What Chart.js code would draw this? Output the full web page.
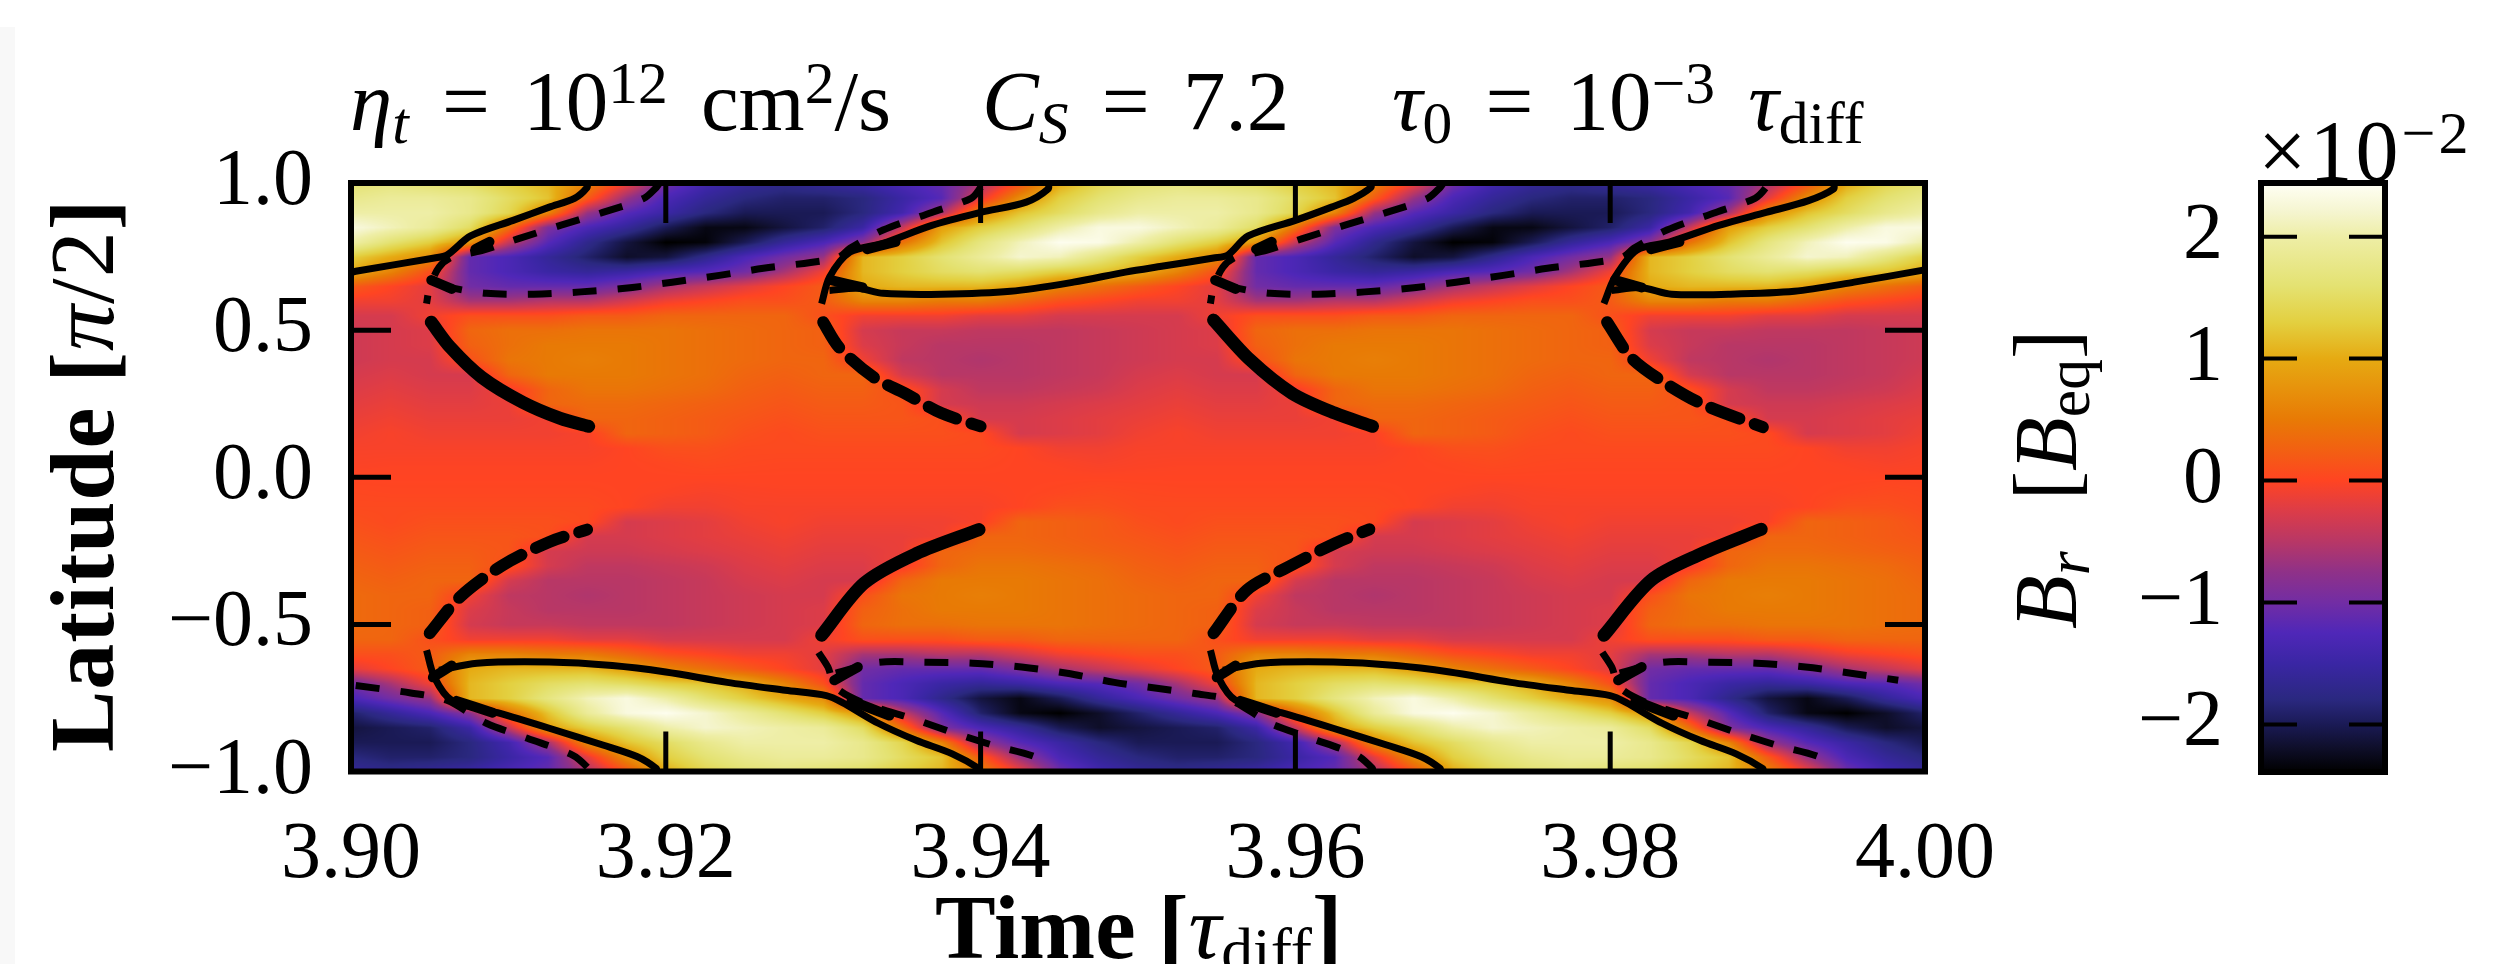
<!DOCTYPE html>
<html>
<head>
<meta charset="utf-8">
<script src="https://cdn.jsdelivr.net/npm/chart.js@4"></script>
<style>
  html, body { margin: 0; padding: 0; background: #fff; width: 2520px; height: 964px; overflow: hidden; }
  canvas { position: absolute; top: 0; }
  #strip { position: absolute; left: 0; top: 27px; width: 15px; height: 937px; background: #f8f8f8; }
  .t { position: absolute; font-family: "Liberation Serif"; font-size: 78px; line-height: 1; white-space: nowrap; color: #000; }
  .h { font-size: 85px; word-spacing: 12px; top: 59px; }
  .r { transform-origin: left top; transform: rotate(-90deg); }
  .b { font-weight: bold; }
  i { font-style: italic; }
  .sp { font-size: .7em; vertical-align: .45em; line-height: 0; }
  .sb { font-size: .7em; vertical-align: -.22em; line-height: 0; }
</style>
</head>
<body>
<div id="strip"></div>
<canvas id="mapChart" style="left:0"></canvas>
<canvas id="barChart" style="left:2100px"></canvas>

<div class="t h" style="left:350px"><i>η</i><span class="sb"><i>t</i></span> = 10<span class="sp">12</span> cm<span class="sp">2</span>/s</div>
<div class="t h" style="left:982px"><i>C</i><span class="sb"><i>S</i></span> = 7.2</div>
<div class="t h" style="left:1392px"><i>τ</i><span class="sb">0</span> = 10<span class="sp">−3</span> <i>τ</i><span class="sb">diff</span></div>
<div class="t r" style="left:36px;top:752px;font-size:92px;letter-spacing:1px"><span class="b">Latitude [</span><i>π</i>/2<span class="b">]</span></div>
<div class="t" style="left:935px;top:882px;font-size:91px"><span class="b">Time [</span><i>τ</i><span class="sb">diff</span><span class="b">]</span></div>
<div class="t r" style="left:2002px;top:629px;font-size:88px;word-spacing:29px"><i>B</i><span class="sb"><i>r</i></span> [<i>B</i><span class="sb">eq</span>]</div>
<div class="t" style="left:2258px;top:108px;font-size:86px;letter-spacing:3px">×10<span class="sp">−2</span></div>

<script>
const timeValues = [3.9,3.9025,3.905,3.9075,3.91,3.9125,3.915,3.9175,3.92,3.9225,3.925,3.9275,3.93,3.9325,3.935,3.9375,3.94,3.9425,3.945,3.9475,3.95,3.9525,3.955,3.9575,3.96,3.9625,3.965,3.9675,3.97,3.9725,3.975,3.9775,3.98,3.9825,3.985,3.9875,3.99,3.9925,3.995,3.9975,4];
const latValues = [1,.95,.9,.85,.8,.75,.7,.65,.6,.55,.5,.45,.4,.35,.3,.25,.2,.15,.1,.05,0,-.05,-.1,-.15,-.2,-.25,-.3,-.35,-.4,-.45,-.5,-.55,-.6,-.65,-.7,-.75,-.8,-.85,-.9,-.95,-1];
// B_r in units of 1e-2, one row per latitude
const brValues = [
[1.6,1.7,1.6,1.5,1.3,1.1,.6,-.1,-1,-1.4,-1.6,-1.7,-1.6,-1.5,-1.3,-1.1,-.6,.1,1,1.4,1.6,1.7,1.6,1.5,1.3,1.1,.6,-.1,-1,-1.4,-1.6,-1.7,-1.6,-1.5,-1.3,-1.1,-.6,.1,1,1.4,1.6],
[1.8,1.9,1.9,1.8,1.5,1.2,.2,-.7,-1.3,-1.6,-1.8,-1.9,-1.9,-1.8,-1.5,-1.2,-.2,.7,1.3,1.6,1.8,1.9,1.9,1.8,1.5,1.2,.2,-.7,-1.3,-1.6,-1.8,-1.9,-1.9,-1.8,-1.5,-1.2,-.2,.7,1.3,1.6,1.8],
[2,2,2,1.8,1.4,.6,-.7,-1.2,-1.5,-1.8,-2,-2,-2,-1.8,-1.4,-.6,.7,1.2,1.5,1.8,2,2,2,1.8,1.4,.6,-.7,-1.2,-1.5,-1.8,-2,-2,-2,-1.8,-1.4,-.6,.7,1.2,1.5,1.8,2],
[2.3,2.1,1.9,1.5,.4,-.9,-1.3,-1.6,-2,-2.3,-2.3,-2.1,-1.9,-1.5,-.4,.9,1.3,1.6,2,2.3,2.3,2.1,1.9,1.5,.4,-.9,-1.3,-1.6,-2,-2.3,-2.3,-2.1,-1.9,-1.5,-.4,.9,1.3,1.6,2,2.3,2.3],
[2,1.6,1.3,.8,-.4,-1.2,-1.7,-2.1,-2.4,-2.35,-2,-1.6,-1.3,-.8,.4,1.2,1.7,2.1,2.4,2.35,2,1.6,1.3,.8,-.4,-1.2,-1.7,-2.1,-2.4,-2.35,-2,-1.6,-1.3,-.8,.4,1.2,1.7,2.1,2.4,2.35,2],
[1.3,1,.7,-1.1,-1.3,-1.6,-1.9,-2.2,-2.1,-1.7,-1.3,-1,-.7,1.1,1.3,1.6,1.9,2.2,2.1,1.7,1.3,1,.7,-1.1,-1.3,-1.6,-1.9,-2.2,-2.1,-1.7,-1.3,-1,-.7,1.1,1.3,1.6,1.9,2.2,2.1,1.7,1.3],
[1,.6,.1,-1.1,-1.3,-1.5,-1.6,-1.5,-1.3,-1.2,-1,-.6,-.1,1.1,1.3,1.5,1.6,1.5,1.3,1.2,1,.6,.1,-1.1,-1.3,-1.5,-1.6,-1.5,-1.3,-1.2,-1,-.6,-.1,1.1,1.3,1.5,1.6,1.5,1.3,1.2,1],
[.2,0,-.2,-1,-1.1,-1.1,-1.1,-.9,-.6,-.4,-.2,0,.2,1,1.1,1.1,1.1,.9,.6,.4,.2,0,-.2,-1,-1.1,-1.1,-1.1,-.9,-.6,-.4,-.2,0,.2,1,1.1,1.1,1.1,.9,.6,.4,.2],
[-.1,-.1,-.2,-.6,-.6,-.5,-.5,-.3,-.1,0,.1,.1,.2,.6,.6,.5,.5,.3,.1,0,-.1,-.1,-.2,-.6,-.6,-.5,-.5,-.3,-.1,0,.1,.1,.2,.6,.6,.5,.5,.3,.1,0,-.1],
[-.3,-.3,-.1,.1,.1,.1,.2,.2,.3,.3,.3,.3,.1,-.1,-.1,-.1,-.2,-.2,-.3,-.3,-.3,-.3,-.1,.1,.1,.1,.2,.2,.3,.3,.3,.3,.1,-.1,-.1,-.1,-.2,-.2,-.3,-.3,-.3],
[-.35,-.3,-.25,.3,.4,.4,.45,.45,.45,.4,.35,.3,.25,-.3,-.4,-.4,-.45,-.45,-.45,-.4,-.35,-.3,-.25,.3,.4,.4,.45,.45,.45,.4,.35,.3,.25,-.3,-.4,-.4,-.45,-.45,-.45,-.4,-.35],
[-.35,-.3,-.25,.25,.4,.5,.5,.5,.45,.4,.35,.3,.25,-.25,-.4,-.5,-.5,-.5,-.45,-.4,-.35,-.3,-.25,.25,.4,.5,.5,.5,.45,.4,.35,.3,.25,-.25,-.4,-.5,-.5,-.5,-.45,-.4,-.35],
[-.35,-.3,-.3,.1,.45,.5,.55,.5,.45,.4,.35,.3,.3,-.1,-.45,-.5,-.55,-.5,-.45,-.4,-.35,-.3,-.3,.1,.45,.5,.55,.5,.45,.4,.35,.3,.3,-.1,-.45,-.5,-.55,-.5,-.45,-.4,-.35],
[-.3,-.25,-.3,-.3,.3,.5,.5,.5,.45,.4,.3,.25,.3,.3,-.3,-.5,-.5,-.5,-.45,-.4,-.3,-.25,-.3,-.3,.3,.5,.5,.5,.45,.4,.3,.25,.3,.3,-.3,-.5,-.5,-.5,-.45,-.4,-.3],
[-.25,-.2,-.25,-.25,-.1,.3,.45,.45,.4,.35,.25,.2,.25,.25,.1,-.3,-.45,-.45,-.4,-.35,-.25,-.2,-.25,-.25,-.1,.3,.45,.45,.4,.35,.25,.2,.25,.25,.1,-.3,-.45,-.45,-.4,-.35,-.25],
[-.2,-.15,-.2,-.2,-.15,.3,.35,.35,.3,.25,.2,.15,.2,.2,.15,-.3,-.35,-.35,-.3,-.25,-.2,-.15,-.2,-.2,-.15,.3,.35,.35,.3,.25,.2,.15,.2,.2,.15,-.3,-.35,-.35,-.3,-.25,-.2],
[-.15,-.1,-.15,-.15,-.15,-.1,.3,.3,.25,.2,.15,.1,.15,.15,.15,.1,-.3,-.3,-.25,-.2,-.15,-.1,-.15,-.15,-.15,-.1,.3,.3,.25,.2,.15,.1,.15,.15,.15,.1,-.3,-.3,-.25,-.2,-.15],
[-.1,-.05,-.1,-.1,-.1,-.1,-.05,.3,.25,.2,.1,.05,.1,.1,.1,.1,.05,-.3,-.25,-.2,-.1,-.05,-.1,-.1,-.1,-.1,-.05,.3,.25,.2,.1,.05,.1,.1,.1,.1,.05,-.3,-.25,-.2,-.1],
[-.05,-.05,-.05,-.05,-.05,-.05,-.05,0,.1,.1,.05,.05,.05,.05,.05,.05,.05,0,-.1,-.1,-.05,-.05,-.05,-.05,-.05,-.05,-.05,0,.1,.1,.05,.05,.05,.05,.05,.05,.05,0,-.1,-.1,-.05],
[-.03,-.02,-.02,-.02,-.02,-.02,-.02,0,.02,.05,.03,.02,.02,.02,.02,.02,.02,0,-.02,-.05,-.03,-.02,-.02,-.02,-.02,-.02,-.02,0,.02,.05,.03,.02,.02,.02,.02,.02,.02,0,-.02,-.05,-.03],
[0,0,0,0,0,0,0,0,0,0,0,0,0,0,0,0,0,0,0,0,0,0,0,0,0,0,0,0,0,0,0,0,0,0,0,0,0,0,0,0,0],
[.03,.02,.02,.02,.02,.02,.02,0,-.02,-.05,-.03,-.02,-.02,-.02,-.02,-.02,-.02,0,.02,.05,.03,.02,.02,.02,.02,.02,.02,0,-.02,-.05,-.03,-.02,-.02,-.02,-.02,-.02,-.02,0,.02,.05,.03],
[.05,.05,.05,.05,.05,.05,.05,0,-.1,-.1,-.05,-.05,-.05,-.05,-.05,-.05,-.05,0,.1,.1,.05,.05,.05,.05,.05,.05,.05,0,-.1,-.1,-.05,-.05,-.05,-.05,-.05,-.05,-.05,0,.1,.1,.05],
[.1,.05,.1,.1,.1,.1,.05,-.3,-.25,-.2,-.1,-.05,-.1,-.1,-.1,-.1,-.05,.3,.25,.2,.1,.05,.1,.1,.1,.1,.05,-.3,-.25,-.2,-.1,-.05,-.1,-.1,-.1,-.1,-.05,.3,.25,.2,.1],
[.15,.1,.15,.15,.15,.1,-.3,-.3,-.25,-.2,-.15,-.1,-.15,-.15,-.15,-.1,.3,.3,.25,.2,.15,.1,.15,.15,.15,.1,-.3,-.3,-.25,-.2,-.15,-.1,-.15,-.15,-.15,-.1,.3,.3,.25,.2,.15],
[.2,.15,.2,.2,.15,-.3,-.35,-.35,-.3,-.25,-.2,-.15,-.2,-.2,-.15,.3,.35,.35,.3,.25,.2,.15,.2,.2,.15,-.3,-.35,-.35,-.3,-.25,-.2,-.15,-.2,-.2,-.15,.3,.35,.35,.3,.25,.2],
[.25,.2,.25,.25,.1,-.3,-.45,-.45,-.4,-.35,-.25,-.2,-.25,-.25,-.1,.3,.45,.45,.4,.35,.25,.2,.25,.25,.1,-.3,-.45,-.45,-.4,-.35,-.25,-.2,-.25,-.25,-.1,.3,.45,.45,.4,.35,.25],
[.3,.25,.3,.3,-.3,-.5,-.5,-.5,-.45,-.4,-.3,-.25,-.3,-.3,.3,.5,.5,.5,.45,.4,.3,.25,.3,.3,-.3,-.5,-.5,-.5,-.45,-.4,-.3,-.25,-.3,-.3,.3,.5,.5,.5,.45,.4,.3],
[.35,.3,.3,-.1,-.45,-.5,-.55,-.5,-.45,-.4,-.35,-.3,-.3,.1,.45,.5,.55,.5,.45,.4,.35,.3,.3,-.1,-.45,-.5,-.55,-.5,-.45,-.4,-.35,-.3,-.3,.1,.45,.5,.55,.5,.45,.4,.35],
[.35,.3,.25,-.25,-.4,-.5,-.5,-.5,-.45,-.4,-.35,-.3,-.25,.25,.4,.5,.5,.5,.45,.4,.35,.3,.25,-.25,-.4,-.5,-.5,-.5,-.45,-.4,-.35,-.3,-.25,.25,.4,.5,.5,.5,.45,.4,.35],
[.35,.3,.25,-.3,-.4,-.4,-.45,-.45,-.45,-.4,-.35,-.3,-.25,.3,.4,.4,.45,.45,.45,.4,.35,.3,.25,-.3,-.4,-.4,-.45,-.45,-.45,-.4,-.35,-.3,-.25,.3,.4,.4,.45,.45,.45,.4,.35],
[.3,.3,.1,-.1,-.1,-.1,-.2,-.2,-.3,-.3,-.3,-.3,-.1,.1,.1,.1,.2,.2,.3,.3,.3,.3,.1,-.1,-.1,-.1,-.2,-.2,-.3,-.3,-.3,-.3,-.1,.1,.1,.1,.2,.2,.3,.3,.3],
[.1,.1,.2,.6,.6,.5,.5,.3,.1,0,-.1,-.1,-.2,-.6,-.6,-.5,-.5,-.3,-.1,0,.1,.1,.2,.6,.6,.5,.5,.3,.1,0,-.1,-.1,-.2,-.6,-.6,-.5,-.5,-.3,-.1,0,.1],
[-.2,0,.2,1,1.1,1.1,1.1,.9,.6,.4,.2,0,-.2,-1,-1.1,-1.1,-1.1,-.9,-.6,-.4,-.2,0,.2,1,1.1,1.1,1.1,.9,.6,.4,.2,0,-.2,-1,-1.1,-1.1,-1.1,-.9,-.6,-.4,-.2],
[-1,-.6,-.1,1.1,1.3,1.5,1.6,1.5,1.3,1.2,1,.6,.1,-1.1,-1.3,-1.5,-1.6,-1.5,-1.3,-1.2,-1,-.6,-.1,1.1,1.3,1.5,1.6,1.5,1.3,1.2,1,.6,.1,-1.1,-1.3,-1.5,-1.6,-1.5,-1.3,-1.2,-1],
[-1.3,-1,-.7,1.1,1.3,1.7,2.1,2.3,2,1.6,1.3,1,.7,-1.1,-1.3,-1.7,-2.1,-2.3,-2,-1.6,-1.3,-1,-.7,1.1,1.3,1.7,2.1,2.3,2,1.6,1.3,1,.7,-1.1,-1.3,-1.7,-2.1,-2.3,-2,-1.6,-1.3],
[-1.9,-1.6,-1.3,-.8,.4,1.2,1.9,2.3,2.4,2.2,1.9,1.6,1.3,.8,-.4,-1.2,-1.9,-2.3,-2.4,-2.2,-1.9,-1.6,-1.3,-.8,.4,1.2,1.9,2.3,2.4,2.2,1.9,1.6,1.3,.8,-.4,-1.2,-1.9,-2.3,-2.4,-2.2,-1.9],
[-2.1,-2,-1.9,-1.5,-.4,.9,1.3,1.6,2,2.2,2.1,2,1.9,1.5,.4,-.9,-1.3,-1.6,-2,-2.2,-2.1,-2,-1.9,-1.5,-.4,.9,1.3,1.6,2,2.2,2.1,2,1.9,1.5,.4,-.9,-1.3,-1.6,-2,-2.2,-2.1],
[-2,-2,-2,-1.8,-1.4,-.6,.7,1.2,1.5,1.8,2,2,2,1.8,1.4,.6,-.7,-1.2,-1.5,-1.8,-2,-2,-2,-1.8,-1.4,-.6,.7,1.2,1.5,1.8,2,2,2,1.8,1.4,.6,-.7,-1.2,-1.5,-1.8,-2],
[-1.8,-1.9,-1.9,-1.8,-1.5,-1.2,-.2,.7,1.3,1.6,1.8,1.9,1.9,1.8,1.5,1.2,.2,-.7,-1.3,-1.6,-1.8,-1.9,-1.9,-1.8,-1.5,-1.2,-.2,.7,1.3,1.6,1.8,1.9,1.9,1.8,1.5,1.2,.2,-.7,-1.3,-1.6,-1.8],
[-1.6,-1.7,-1.6,-1.5,-1.3,-1.1,-.6,.1,1,1.4,1.6,1.7,1.6,1.5,1.3,1.1,.6,-.1,-1,-1.4,-1.6,-1.7,-1.6,-1.5,-1.3,-1.1,-.6,.1,1,1.4,1.6,1.7,1.6,1.5,1.3,1.1,.6,-.1,-1,-1.4,-1.6]
];

// colour scale, value then colour
const cmapValues = [-2.39,-2.2,-2,-1.8,-1.5,-1.25,-1,-.75,-.5,-.25,0,.25,.5,1,1.3,1.6,2,2.2,2.44];
const cmapColors = ["#000000","#0e0e28","#1a1a55","#2a287f","#3a26a4","#4f27b8","#722da4","#8f3188","#b83766","#dc3c48","#ff4422","#f26012","#e87a05","#e6aa12","#e3d040","#e4e272","#eeeea6","#f5f5cf","#fffff5"];

const xTicks = [3.9,3.92,3.94,3.96,3.98,4];
const yTicks = [1,.5,0,-.5,-1];
const barTicks = [2,1,0,-1,-2];

// contours, [time, latitude]
const solidLines = [
[[3.9,.695],[3.9003,.7],[3.9053,.745],[3.9061,.755],[3.9076,.82],[3.9103,.873],[3.9126,.918],[3.9142,.948],[3.915,.985],[3.915,1]],
[[3.9299,.59],[3.9304,.68],[3.9317,.765],[3.9338,.795],[3.9369,.856],[3.94,.9],[3.9429,.935],[3.9443,.98],[3.9443,1]],
[[3.9304,.635],[3.9322,.642],[3.9338,.625],[3.9375,.622],[3.9419,.632],[3.9459,.663],[3.9492,.697],[3.9515,.717],[3.9548,.745],[3.9557,.755],[3.957,.82],[3.96,.873],[3.9623,.918],[3.9637,.948],[3.9648,.985],[3.9648,1]],
[[3.9796,.59],[3.9803,.68],[3.9817,.772],[3.9838,.8],[3.9869,.856],[3.9899,.9],[3.9926,.94],[3.9942,.98],[3.9942,1]],
[[3.9801,.635],[3.9819,.645],[3.9839,.622],[3.9875,.622],[3.9917,.632],[3.9955,.663],[3.9998,.703],[4,.705]],
[[3.9048,-.588],[3.9053,-.68],[3.9064,-.758],[3.9093,-.8],[3.9126,-.853],[3.916,-.91],[3.9182,-.95],[3.9194,-.99],[3.9194,-1]],
[[3.9056,-.656],[3.908,-.632],[3.9126,-.628],[3.9166,-.64],[3.92,-.662],[3.9239,-.697],[3.9276,-.724],[3.9302,-.742],[3.9312,-.765],[3.9335,-.836],[3.9359,-.894],[3.9382,-.94],[3.9399,-.99],[3.9399,-1]],
[[3.9546,-.588],[3.9551,-.68],[3.9562,-.758],[3.9591,-.8],[3.9624,-.853],[3.9658,-.91],[3.968,-.95],[3.9692,-.99],[3.9692,-1]],
[[3.9554,-.656],[3.9578,-.632],[3.9624,-.628],[3.9664,-.64],[3.9698,-.662],[3.9737,-.697],[3.9774,-.724],[3.98,-.742],[3.981,-.765],[3.9833,-.836],[3.9857,-.894],[3.988,-.94],[3.9897,-.99],[3.9897,-1]]
];
const dashedLines = [
[[3.9196,1],[3.9194,.985],[3.9186,.948],[3.916,.9],[3.9133,.856],[3.9106,.81],[3.9083,.77],[3.9064,.748],[3.9056,.714],[3.905,.647],[3.9048,.59]],
[[3.9056,.66],[3.9061,.647],[3.9086,.625],[3.9116,.622],[3.9146,.63],[3.9174,.642],[3.9204,.663],[3.9234,.686],[3.9262,.71],[3.9292,.73],[3.931,.748],[3.9317,.778],[3.9338,.84],[3.9369,.9],[3.9394,.948],[3.94,.985],[3.94,1]],
[[3.9694,1],[3.9692,.985],[3.9684,.948],[3.9658,.9],[3.9631,.856],[3.9604,.81],[3.9581,.77],[3.9562,.748],[3.9554,.714],[3.9548,.647],[3.9546,.59]],
[[3.9554,.66],[3.9559,.647],[3.9584,.625],[3.9614,.622],[3.9644,.63],[3.9672,.642],[3.9702,.663],[3.9732,.686],[3.976,.71],[3.979,.73],[3.9808,.748],[3.9815,.778],[3.9836,.84],[3.9867,.9],[3.9892,.948],[3.9899,.985],[3.9899,1]],
[[3.9003,-.708],[3.9038,-.733],[3.9061,-.758],[3.9086,-.836],[3.9112,-.887],[3.9141,-.945],[3.9151,-.99],[3.9151,-1]],
[[3.9297,-.595],[3.9303,-.645],[3.9308,-.714],[3.9326,-.768],[3.9356,-.819],[3.9382,-.867],[3.9408,-.911],[3.9435,-.951],[3.9443,-.99],[3.9443,-1]],
[[3.9308,-.666],[3.9335,-.629],[3.9365,-.629],[3.9395,-.632],[3.9426,-.645],[3.9455,-.666],[3.9485,-.697],[3.9512,-.717],[3.9536,-.735],[3.9559,-.758],[3.9584,-.836],[3.961,-.887],[3.9639,-.945],[3.9649,-.99],[3.9649,-1]],
[[3.9795,-.595],[3.9801,-.645],[3.9806,-.714],[3.9824,-.768],[3.9854,-.819],[3.988,-.867],[3.9906,-.911],[3.9933,-.951],[3.9941,-.99],[3.9941,-1]],
[[3.9806,-.666],[3.9833,-.629],[3.9863,-.629],[3.9893,-.632],[3.9924,-.645],[3.9953,-.666],[3.9983,-.69]]
];
const lobeSolid = [
[[3.9051,.527],[3.9063,.442],[3.9083,.34],[3.9109,.255],[3.9133,.2],[3.9151,.173]],
[[3.9548,.534],[3.9571,.4],[3.9598,.285],[3.9625,.218],[3.9649,.173]],
[[3.9299,-.537],[3.9326,-.36],[3.9359,-.26],[3.9399,-.178]],
[[3.9796,-.537],[3.9826,-.35],[3.9858,-.26],[3.9896,-.177]]
];
const lobeDashed = [
[[3.93,.527],[3.931,.442],[3.9332,.34],[3.9352,.285],[3.9375,.218],[3.94,.173]],
[[3.9798,.527],[3.9813,.408],[3.9832,.33],[3.9858,.25],[3.9897,.17]],
[[3.905,-.53],[3.9069,-.408],[3.9096,-.3],[3.9126,-.22],[3.915,-.178]],
[[3.9548,-.53],[3.9569,-.384],[3.9595,-.306],[3.9625,-.225],[3.9647,-.177]]
];
// small blobs where the contours meet near each front
const curlLines = [
[[3.9079,.775],[3.9088,.8]],[[3.9051,.67],[3.9064,.64]],
[[3.9328,.775],[3.9346,.8]],[[3.9325,.645],[3.9305,.67]],
[[3.9575,.775],[3.9585,.8]],[[3.9549,.67],[3.9562,.64]],
[[3.9826,.775],[3.9844,.8]],[[3.982,.645],[3.9803,.67]],
[[3.9067,-.76],[3.909,-.8]],[[3.9052,-.68],[3.9064,-.64]],
[[3.9318,-.76],[3.9342,-.81]],[[3.9307,-.69],[3.9322,-.645]],
[[3.9565,-.76],[3.9588,-.8]],[[3.955,-.68],[3.9562,-.64]],
[[3.9816,-.76],[3.984,-.81]],[[3.9805,-.69],[3.982,-.645]]
];

const font = '"Liberation Serif"';

function hexRgb(h) {
  return [parseInt(h.slice(1, 3), 16), parseInt(h.slice(3, 5), 16), parseInt(h.slice(5, 7), 16)];
}
const cmapRgb = cmapColors.map(hexRgb);

function colorOf(v) {
  const n = cmapValues.length;
  if (v <= cmapValues[0]) return cmapRgb[0];
  if (v >= cmapValues[n - 1]) return cmapRgb[n - 1];
  let i = 0;
  while (cmapValues[i + 1] < v) i++;
  const f = (v - cmapValues[i]) / (cmapValues[i + 1] - cmapValues[i]);
  const a = cmapRgb[i], b = cmapRgb[i + 1];
  return [a[0] + (b[0] - a[0]) * f, a[1] + (b[1] - a[1]) * f, a[2] + (b[2] - a[2]) * f];
}

// paints the cells with gouraud style shading, placed by the chart scales
const heatPlugin = {
  id: 'heat',
  beforeDatasetsDraw(chart) {
    const { ctx, chartArea, scales } = chart;
    const w = Math.round(chartArea.right - chartArea.left);
    const h = Math.round(chartArea.bottom - chartArea.top);
    const xs = timeValues.map(v => scales.x.getPixelForValue(v) - chartArea.left);
    const ys = latValues.map(v => scales.y.getPixelForValue(v) - chartArea.top);
    const img = ctx.createImageData(w, h);
    let row = 0;
    for (let py = 0; py < h; py++) {
      while (row < ys.length - 2 && ys[row + 1] <= py) row++;
      const fy = (py - ys[row]) / (ys[row + 1] - ys[row]);
      let col = 0;
      for (let px = 0; px < w; px++) {
        while (col < xs.length - 2 && xs[col + 1] <= px) col++;
        const fx = (px - xs[col]) / (xs[col + 1] - xs[col]);
        const top = brValues[row][col] * (1 - fx) + brValues[row][col + 1] * fx;
        const bot = brValues[row + 1][col] * (1 - fx) + brValues[row + 1][col + 1] * fx;
        const c = colorOf(top * (1 - fy) + bot * fy);
        const k = (py * w + px) * 4;
        img.data[k] = c[0]; img.data[k + 1] = c[1]; img.data[k + 2] = c[2]; img.data[k + 3] = 255;
      }
    }
    ctx.putImageData(img, Math.round(chartArea.left), Math.round(chartArea.top));
  }
};

// matplotlib style frame with inward ticks on all sides
function framePlugin(tickLen, tickWidth, frameWidth, xAxis, yAxis) {
  return {
    id: 'frame',
    afterDatasetsDraw(chart) {
      const { ctx, chartArea: a } = chart;
      ctx.save();
      ctx.strokeStyle = '#000';
      ctx.lineWidth = tickWidth;
      ctx.beginPath();
      if (xAxis) {
        xAxis.forEach(v => {
          const x = chart.scales.x.getPixelForValue(v);
          ctx.moveTo(x, a.top); ctx.lineTo(x, a.top + tickLen);
          ctx.moveTo(x, a.bottom); ctx.lineTo(x, a.bottom - tickLen);
        });
      }
      yAxis.forEach(v => {
        const y = chart.scales.y.getPixelForValue(v);
        ctx.moveTo(a.left, y); ctx.lineTo(a.left + tickLen, y);
        ctx.moveTo(a.right, y); ctx.lineTo(a.right - tickLen, y);
      });
      ctx.stroke();
      ctx.lineWidth = frameWidth;
      ctx.strokeRect(a.left, a.top, a.right - a.left, a.bottom - a.top);
      ctx.restore();
    }
  };
}

function lineSet(points, width, dash, cap) {
  return {
    type: 'scatter',
    data: points.map(p => ({ x: p[0], y: p[1] })),
    showLine: true,
    tension: .3,
    borderColor: '#000',
    borderWidth: width,
    borderDash: dash,
    borderCapStyle: cap,
    pointRadius: 0
  };
}

const cells = [];
latValues.forEach((lat, r) => timeValues.forEach((t, c) => cells.push({ x: t, y: lat, v: brValues[r][c] })));

const mapCanvas = document.getElementById('mapChart');
mapCanvas.width = 2100; mapCanvas.height = 964;
new Chart(mapCanvas, {
  type: 'scatter',
  data: {
    datasets: [
      { label: 'B_r', data: cells, pointRadius: 0, showLine: false },
      ...solidLines.map(p => lineSet(p, 7, [], 'butt')),
      ...dashedLines.map(p => lineSet(p, 7, [24, 21], 'butt')),
      ...lobeSolid.map(p => lineSet(p, 13, [], 'round')),
      ...lobeDashed.map(p => lineSet(p, 12, [30, 16], 'round')),
      ...curlLines.map(p => lineSet(p, 10, [], 'round'))
    ]
  },
  options: {
    responsive: false,
    animation: false,
    layout: { padding: { left: 0, top: 183, right: 175, bottom: 0 } },
    plugins: { legend: { display: false }, tooltip: { enabled: false } },
    scales: {
      x: {
        type: 'linear', min: 3.9, max: 4,
        grid: { display: false, drawTicks: false },
        border: { display: false },
        afterBuildTicks: s => { s.ticks = xTicks.map(v => ({ value: v })); },
        afterFit: s => { s.height = 192.5; },
        ticks: { padding: 36, maxRotation: 0, autoSkip: false, color: '#000', font: { family: font, size: 80 }, callback: v => v.toFixed(2) }
      },
      y: {
        type: 'linear', min: -1, max: 1,
        grid: { display: false, drawTicks: false },
        border: { display: false },
        afterBuildTicks: s => { s.ticks = yTicks.map(v => ({ value: v })); },
        afterFit: s => { s.width = 351; },
        ticks: { padding: 38, autoSkip: false, color: '#000', font: { family: font, size: 80 }, callback: v => v.toFixed(1).replace('-', '−') }
      }
    }
  },
  plugins: [heatPlugin, framePlugin(40, 5, 6, xTicks, yTicks)]
});

const barCanvas = document.getElementById('barChart');
barCanvas.width = 420; barCanvas.height = 964;
new Chart(barCanvas, {
  type: 'bar',
  data: {
    labels: ['B_r'],
    datasets: [{
      data: [[cmapValues[0], cmapValues[cmapValues.length - 1]]],
      barPercentage: 1,
      categoryPercentage: 1,
      backgroundColor: ctx => {
        const chart = ctx.chart;
        if (!chart.chartArea) return '#000';
        const y = chart.scales.y;
        const bottom = y.getPixelForValue(cmapValues[0]);
        const top = y.getPixelForValue(cmapValues[cmapValues.length - 1]);
        const g = chart.ctx.createLinearGradient(0, bottom, 0, top);
        cmapValues.forEach((v, i) => g.addColorStop((v - cmapValues[0]) / (cmapValues[cmapValues.length - 1] - cmapValues[0]), cmapColors[i]));
        return g;
      }
    }]
  },
  options: {
    responsive: false,
    animation: false,
    layout: { padding: { left: 0, top: 183, right: 135, bottom: 192 } },
    plugins: { legend: { display: false }, tooltip: { enabled: false } },
    scales: {
      x: { display: false },
      y: {
        min: cmapValues[0], max: cmapValues[cmapValues.length - 1],
        grid: { display: false, drawTicks: false },
        border: { display: false },
        afterBuildTicks: s => { s.ticks = barTicks.map(v => ({ value: v })); },
        afterFit: s => { s.width = 161; },
        ticks: { padding: 38, autoSkip: false, color: '#000', font: { family: font, size: 80 }, callback: v => String(v).replace('-', '−') }
      }
    }
  },
  plugins: [framePlugin(36, 4, 6, null, barTicks)]
});
</script>
</body>
</html>
